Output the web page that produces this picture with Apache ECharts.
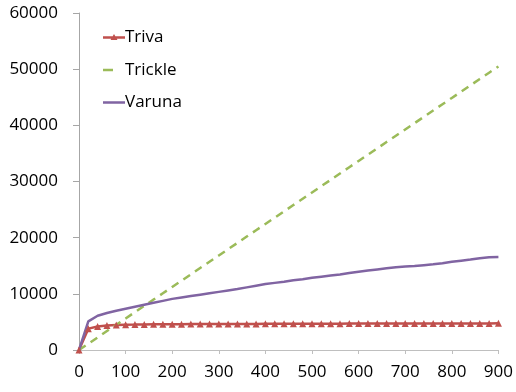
<!DOCTYPE html>
<html><head><meta charset="utf-8">
<script src="https://cdn.jsdelivr.net/npm/echarts@6/dist/echarts.min.js"></script>
<style>html,body{margin:0;padding:0;background:#fff}#c{width:516px;height:392px}</style>
</head><body><div id="c"></div>
<script>
const xValues = [0,20,40,60,80,100,120,140,160,180,200,220,240,260,280,300,320,340,360,380,400,420,440,460,480,500,520,540,560,580,600,620,640,660,680,700,720,740,760,780,800,820,840,860,880,900];
const triva = [0,3800,4200,4350,4450,4500,4520,4550,4570,4580,4600,4600,4610,4620,4620,4630,4640,4640,4650,4650,4660,4660,4670,4670,4680,4680,4690,4690,4690,4700,4700,4700,4710,4710,4710,4720,4720,4720,4720,4730,4730,4730,4740,4740,4740,4750];
const trickle = [0,1120,2240,3370,4490,5610,6730,7850,8980,10100,11220,12340,13460,14590,15710,16830,17950,19070,20200,21320,22440,23560,24680,25810,26930,28050,29170,30290,31420,32540,33660,34780,35900,37030,38150,39270,40390,41510,42640,43760,44880,46000,47120,48250,49370,50490];
const varuna = [0,5100,6100,6600,7000,7350,7700,8050,8400,8750,9100,9350,9600,9850,10100,10350,10600,10850,11150,11450,11750,11950,12150,12400,12600,12850,13050,13250,13450,13700,13950,14150,14350,14550,14750,14850,14950,15100,15250,15450,15700,15900,16100,16350,16500,16550];
const seriesNames = ['Triva','Trickle','Varuna'];
const font = 'Open Sans';
const pair = arr => xValues.map((x,i)=>[x,arr[i]]);
const box = ' M0,0h0.1v0.1h-0.1z M21.9,13.9h0.1v0.1h-0.1z';
const icons = {
  Triva: 'path://M0,5.75h22v2.5h-22z M11,3.5L14.5,9.5L7.5,9.5z' + box,
  Trickle: 'path://M0,5.75h10v2.5h-10z' + box,
  Varuna: 'path://M0,5.75h22v2.5h-22z' + box
};
const chart = echarts.init(document.getElementById('c'));
chart.setOption({
  animation:false,
  grid:{left:79,right:16,top:13,bottom:42},
  legend:{
    orient:'vertical', left:103, top:29, padding:0, itemWidth:22, itemHeight:14, itemGap:15.5,
    textStyle:{fontFamily:font,fontSize:17,color:'#000',padding:[0,0,0,-5]},
    data:seriesNames.map(n=>({name:n,icon:icons[n]}))
  },
  xAxis:{type:'value',min:0,max:900,interval:100,
    axisLine:{show:true,lineStyle:{color:'#bfbfbf',width:1}},
    axisTick:{show:true,length:4,lineStyle:{color:'#bfbfbf'}},
    splitLine:{show:false},
    axisLabel:{fontFamily:font,fontSize:17,color:'#000',margin:14}},
  yAxis:{type:'value',min:0,max:60000,interval:10000,
    axisLine:{show:true,lineStyle:{color:'#a6a6a6',width:1}},
    axisTick:{show:true,length:6,lineStyle:{color:'#a6a6a6'}},
    splitLine:{show:false},
    axisLabel:{fontFamily:font,fontSize:17,color:'#000',margin:21,formatter:v=>String(v)}},
  series:[
    {name:'Triva',type:'line',data:pair(triva),symbol:'triangle',symbolSize:7,showSymbol:true,
      itemStyle:{color:'#C0504D'},lineStyle:{color:'#C0504D',width:2.5}},
    {name:'Trickle',type:'line',data:pair(trickle),symbol:'none',
      itemStyle:{color:'#9BBB59'},lineStyle:{color:'#9BBB59',width:2.5,type:[8,6]}},
    {name:'Varuna',type:'line',data:pair(varuna),symbol:'none',
      itemStyle:{color:'#8064A2'},lineStyle:{color:'#8064A2',width:2.5}}
  ]
});
</script></body></html>
